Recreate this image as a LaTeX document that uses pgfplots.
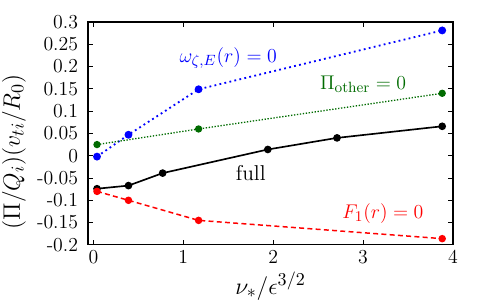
\documentclass[border=0pt]{standalone}
\usepackage{pgfplots}
\pgfplotsset{compat=1.18}
\usetikzlibrary{calc}
\definecolor{cblue}{rgb}{0,0,1}
\definecolor{cgreen}{rgb}{0,0.42,0}
\definecolor{cred}{rgb}{1,0,0}
\begin{document}
\begin{tikzpicture}
\begin{axis}[
  scale only axis, width=221pt, height=135pt,
  xmin=-0.06, xmax=4, ymin=-0.2, ymax=0.3,
  xtick={0,1,2,3,4},
  ytick={-0.2,-0.15,-0.1,-0.05,0,0.05,0.1,0.15,0.2,0.25,0.3},
  yticklabels={-0.2,-0.15,-0.1,-0.05,0,0.05,0.1,0.15,0.2,0.25,0.3},
  tick align=inside, major tick length=3pt,
  axis line style={line width=0.7pt},
  every tick/.style={black, line width=0.5pt},
  tick label style={font=\large},
  yticklabel style={xshift=-2.5pt},
  label style={font=\fontsize{15}{18}\selectfont},
  xlabel={$\nu_*/\epsilon^{3/2}$},
  ylabel={$(\Pi/Q_i)(v_{ti}/R_0)$},
  xlabel style={at={(rel axis cs:0.5,-0.184)}, anchor=center},
  ylabel style={at={(rel axis cs:-0.203,0.417)}, anchor=center},
  clip=false,
]
\addplot[cblue, line width=1.1pt, dotted, mark=*, mark size=1.8pt, mark options={solid}]
  coordinates {(0.04,-0.002) (0.39,0.047) (1.17,0.149) (3.88,0.281)};
\addplot[cgreen, line width=0.8pt, densely dotted, mark=*, mark size=1.8pt, mark options={solid}]
  coordinates {(0.04,0.025) (1.17,0.060) (3.88,0.140)};
\addplot[black, line width=1pt, mark=*, mark size=1.8pt]
  coordinates {(0.04,-0.074) (0.39,-0.067) (0.77,-0.039) (1.94,0.014) (2.71,0.040) (3.88,0.066)};
\addplot[cred, line width=0.9pt, densely dashed, mark=*, mark size=1.8pt, mark options={solid}]
  coordinates {(0.04,-0.080) (0.39,-0.100) (1.17,-0.145) (3.88,-0.186)};
\node[cblue, font=\fontsize{13}{15}\selectfont] at (axis cs:1.50,0.219) {$\omega_{\zeta,E}(r) = 0$};
\node[cgreen, font=\fontsize{13}{15}\selectfont] at (axis cs:3.00,0.160) {$\Pi_{\mathrm{other}} = 0$};
\node[black, font=\fontsize{13}{15}\selectfont] at (axis cs:1.75,-0.039) {full};
\node[cred, font=\fontsize{13}{15}\selectfont] at (axis cs:3.22,-0.129) {$F_1(r) = 0$};
\end{axis}
\pgfresetboundingbox
\path[use as bounding box] ($(current axis.south west)+(-53.3pt,-36.4pt)$) rectangle ($(current axis.north east)+(20.6pt,13.3pt)$);
\end{tikzpicture}
\end{document}
